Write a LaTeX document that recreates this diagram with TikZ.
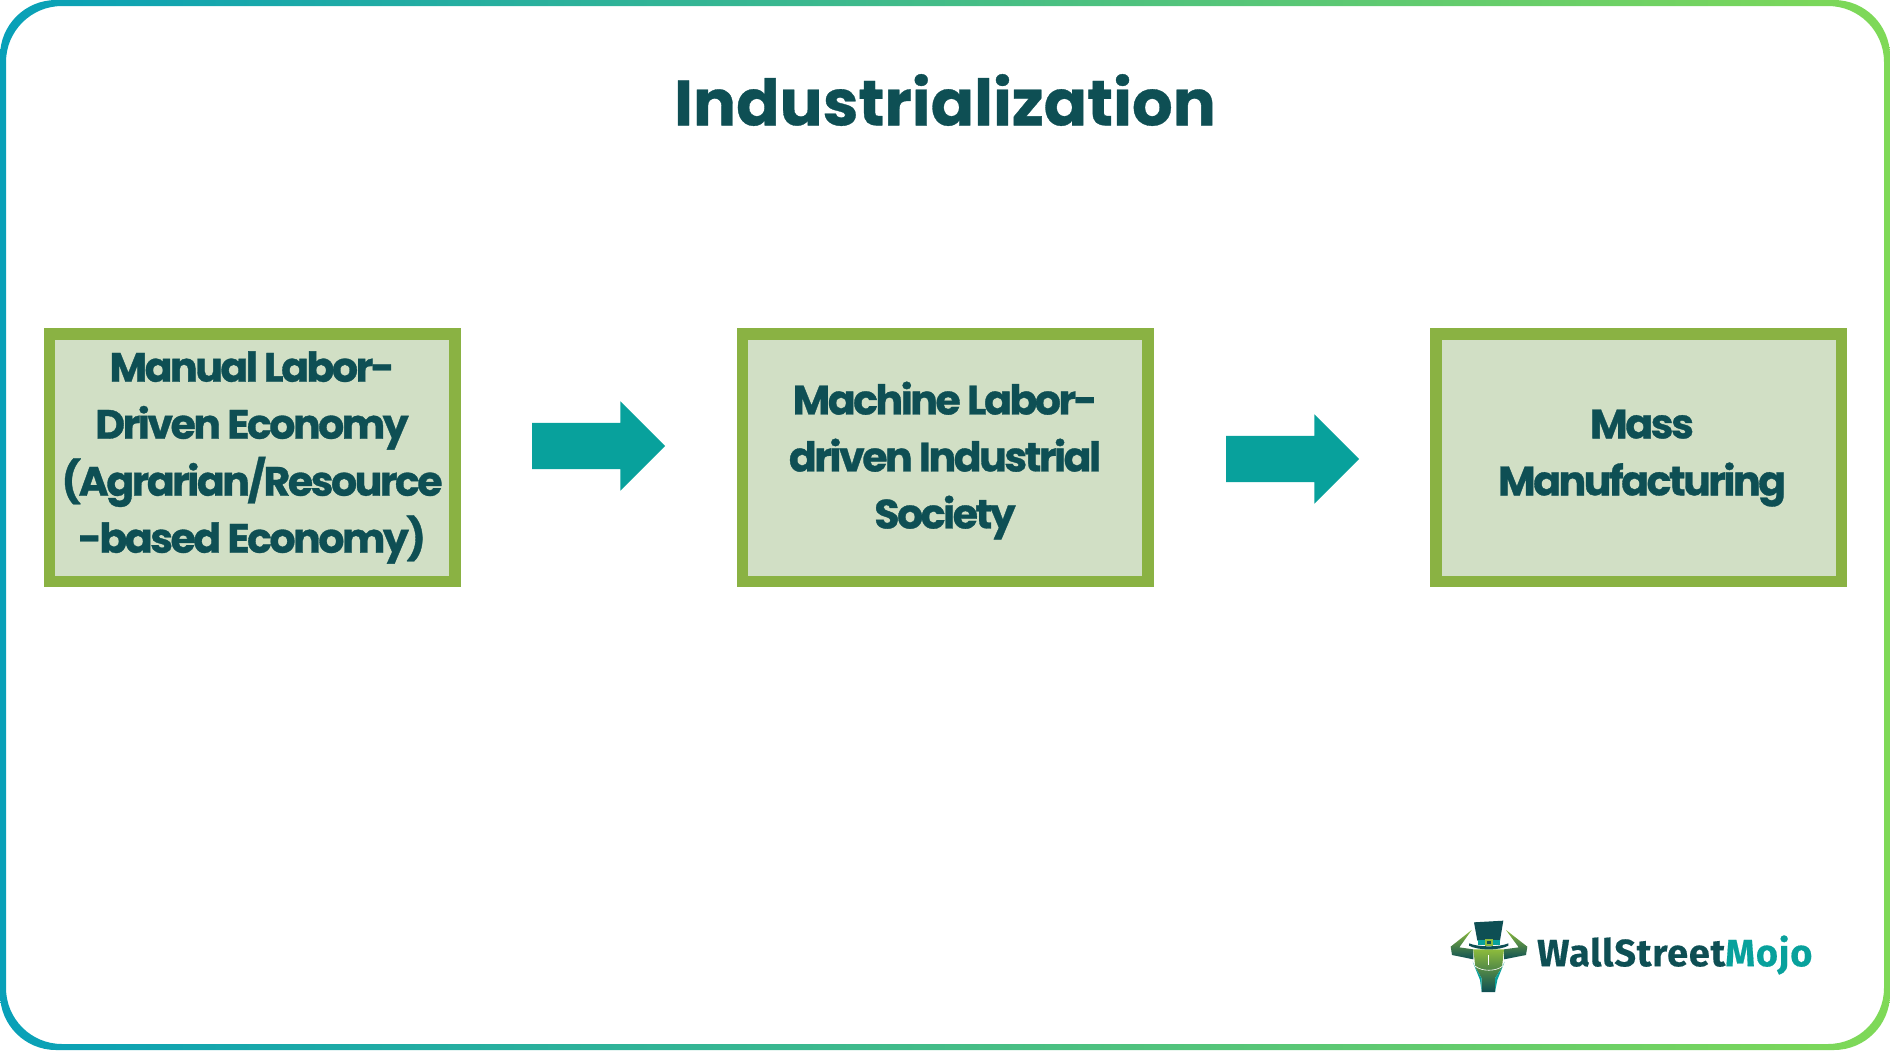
\documentclass[tikz,border=0pt]{standalone}
\usepackage{fontspec}
\usetikzlibrary{shapes.arrows}
\setmainfont{Poppins}[BoldFeatures={FakeBold=0.5}]
\newfontfamily\boxfont{Poppins}[BoldFeatures={LetterSpace=-6,FakeBold=0.8}]
\newfontfamily\logofont{Fira Sans}[BoldFeatures={LetterSpace=2,FakeBold=0.4}]
\definecolor{darkteal}{HTML}{0E4F54}
\definecolor{boxgreen}{HTML}{8AB243}
\definecolor{boxfill}{HTML}{D1DFC5}
\definecolor{arrowteal}{HTML}{08A19C}
\definecolor{frameleft}{HTML}{08A0B8}
\definecolor{framemid}{HTML}{33B08A}
\definecolor{frameright}{HTML}{7FD957}
\definecolor{logogreen}{HTML}{8DBB3C}
\newcommand{\stagetext}[3]{\hspace*{#1}\parbox{385pt}{\vspace*{#2}\centering #3}}
\tikzset{
	stagebox/.style={draw=boxgreen, fill=boxfill, line width=11.5pt, minimum width=405.5pt, minimum height=247.5pt, inner sep=0pt, text=darkteal, font=\boxfont\fontsize{41}{57}\selectfont\bfseries},
	stagearrow/.style={shape=single arrow, fill=arrowteal, minimum height=133pt, minimum width=89pt, single arrow head extend=21.5pt, single arrow head indent=0pt, inner xsep=0pt, inner ysep=23pt},
}
\begin{document}
\begin{tikzpicture}[x=1pt, y=-1pt]
	\useasboundingbox (0,0) rectangle (1890,1050);
	
	%frame
	\shade[left color=frameleft, middle color=framemid, right color=frameright, even odd rule, rounded corners=56pt] (0,0) rectangle (1890,1050) (6,6) rectangle (1884,1044);
	
	%title
	\node[text=darkteal, font=\fontsize{64}{72}\selectfont\bfseries] (title) at (945,100) {Industrialization};
	
	%boxes
	\node[stagebox] (manual) at (252,457.5) {\stagetext{0pt}{0pt}{Manual Labor-\\Driven Economy\\(Agrarian/Resource\\-based Economy)}};
	\node[stagebox] (machine) at (945,457.5) {\stagetext{0pt}{6pt}{Machine Labor-\\driven Industrial\\Society}};
	\node[stagebox] (mass) at (1638.5,457.5) {\stagetext{7pt}{1.2pt}{Mass\\Manufacturing}};
	
	%arrows
	\node[stagearrow] (arrowone) at (587,446) {};
	\node[stagearrow] (arrowtwo) at (1281,459) {};
	
	%logo
	\begin{scope}[shift={(1420,890)}, x=0.3333pt, y=-0.3333pt]
		\shade[top color=logogreen, bottom color=darkteal] (155,120) -- (92,170) -- (96,195) -- (160,208) -- (160,178) -- (118,172) -- cycle;
		\shade[top color=logogreen, bottom color=darkteal] (258,120) -- (322,170) -- (318,195) -- (252,208) -- (252,178) -- (296,172) -- cycle;
		\shade[top color=logogreen, bottom color=darkteal] (160,178) -- (252,178) -- (246,232) -- (225,265) -- (225,306) -- (185,306) -- (185,265) -- (166,232) -- cycle;
		\fill[arrowteal] (158,215) -- (166,232) -- (185,265) -- (185,306) -- (180,270) -- cycle;
		\fill[arrowteal] (254,215) -- (246,232) -- (225,265) -- (225,306) -- (232,270) -- cycle;
		\draw[white, line width=0.6pt] (165,228) .. controls (185,245) and (228,245) .. (248,228);
		\draw[white, line width=0.5pt] (206,195) -- (206,225);
		\fill[darkteal] (162,97) -- (250,92) -- (240,152) -- (172,152) -- cycle;
		\fill[darkteal] (147,160) .. controls (175,172) and (238,172) .. (265,160) -- (265,167) .. controls (238,182) and (175,182) .. (147,167) -- cycle;
		\fill[arrowteal] (173,150) -- (240,150) -- (240,165) -- (173,165) -- cycle;
		\fill[logogreen] (194,147) rectangle (220,167);
		\fill[darkteal] (200,152) rectangle (214,162);
	\end{scope}
	\node[anchor=west, font=\logofont\fontsize{38}{38}\selectfont\bfseries, inner sep=0pt] (logotext) at (1537,955) {\textcolor{darkteal}{WallStreet}\textcolor{arrowteal}{Mojo}};
\end{tikzpicture}
\end{document}
